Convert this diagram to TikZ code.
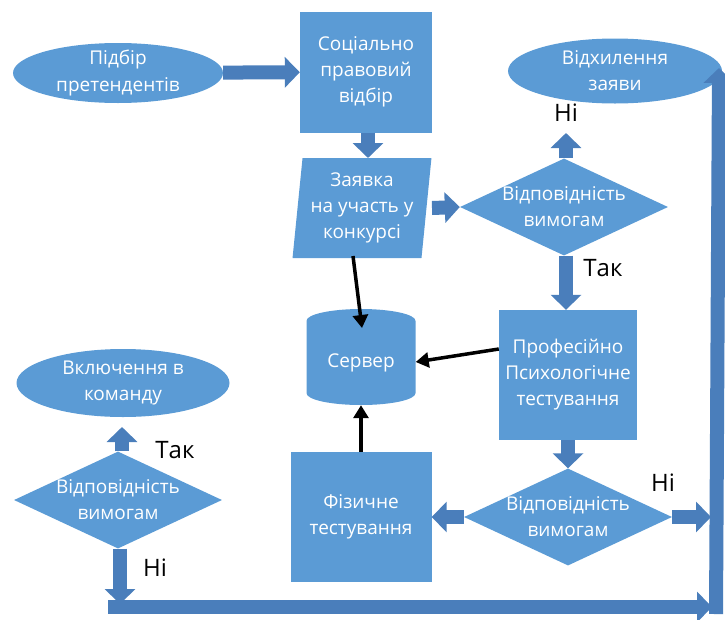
\documentclass[tikz,border=0pt]{standalone}
\usepackage{fontspec}
\setmainfont{Open Sans}
\usetikzlibrary{shapes.geometric,arrows.meta}
\definecolor{boxblue}{RGB}{91,155,213}
\definecolor{arrowblue}{RGB}{74,126,187}

\begin{document}
\begin{tikzpicture}[x=1pt,y=-1pt,
    every node/.style={font=\fontsize{19}{26}\selectfont,text=white,align=center},
    box/.style={shape=rectangle,fill=boxblue,inner sep=0pt},
    oval/.style={shape=ellipse,fill=boxblue,inner sep=0pt},
    check/.style={shape=diamond,fill=boxblue,inner sep=0pt,minimum width=208,minimum height=97},
    flow/.style={draw=arrowblue,line width=14pt,-{Triangle[length=15pt,width=30pt]}},
    link/.style={draw=black,line width=3.5pt,-{Triangle[length=13pt,width=15pt]}},
    answer/.style={text=black,font=\fontsize{24}{28}\selectfont}]
        \useasboundingbox (0,0) rectangle (725,619);

        \node[oval,minimum width=210,minimum height=60,label={center:Підбір\\претендентів}] (pidbir) at (118,73) {};
        \node[box,minimum width=132,minimum height=121] (social) at (366,72) {Соціально\\правовий\\відбір};
        \node[shape=trapezium,trapezium left angle=83,trapezium right angle=97,trapezium stretches=true,
              fill=boxblue,inner sep=0pt,minimum width=139,minimum height=100] (zayavka) at (362,208) {Заявка\\на участь у\\конкурсі};
        \node[check,label={center:Відповідність\\вимогам}] (check1) at (564,207) {};
        \node[oval,minimum width=214,minimum height=65,label={center:Відхилення\\заяви}] (vidkh) at (615,71) {};
        \node[box,minimum width=138,minimum height=130] (prof) at (568,375) {Професійно\\Психологічне\\тестування};
        \node[shape=cylinder,shape border rotate=90,aspect=0.35,fill=boxblue,inner sep=0pt,
              minimum width=109,minimum height=96] (server) at (361,363) {Сервер};
        \node[box,minimum width=141,minimum height=130] (fiz) at (361,517) {Фізичне\\тестування};
        \node[check,label={center:Відповідність\\вимогам}] (check2) at (568,517) {};
        \node[oval,minimum width=213,minimum height=68,label={center:Включення в\\команду}] (vkl) at (123,383) {};
        \node[check,label={center:Відповідність\\вимогам}] (check3) at (118,500) {};

        \node[answer] (no1) at (566,113) {Ні};
        \node[answer] (yes1) at (603,268) {Так};
        \node[answer] (no2) at (663,483) {Ні};
        \node[answer] (yes2) at (175,450) {Так};
        \node[answer] (no3) at (155,568) {Ні};

        \coordinate (up1) at (566,133);
        \coordinate (up2) at (122,427);
        \coordinate (down3) at (120,604);
        \coordinate (bl) at (108,607);
        \coordinate (br) at (712,607);
        \coordinate (rb) at (716,614);
        \coordinate (rt) at (719,68);
        \coordinate (side2) at (711,517);

        \path [flow](pidbir) -- (social);
        \path [flow](social.south -| 368,0) -- (368,158);
        \path [flow](432,208) -- (check1.west);
        \path [flow](check1.north -| up1) -- (up1);
        \path [flow](check1.south -| 566,0) -- (prof.north -| 566,0);
        \path [flow](prof.south) -- (check2.north);
        \path [flow](check2.west) -- (fiz.east |- check2.west);
        \path [flow](check2.east) -- (side2);
        \path [flow](check3.north -| up2) -- (up2);
        \path [flow](check3.south -| down3) -- (down3);
        \path [flow](bl) -- (br);
        \path [flow](rb) -- (rt);

        \path [link](353,256) -- (362,328);
        \path [link](prof.west |- 0,349) -- (server.east |- 0,362);
        \path [link](fiz.north) -- (server.south);
    \end{tikzpicture}
\end{document}
